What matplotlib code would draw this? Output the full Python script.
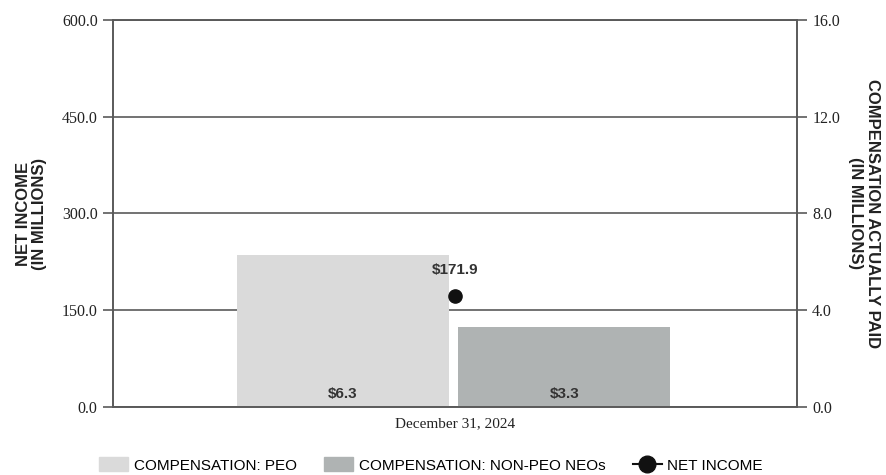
import matplotlib.pyplot as plt
from matplotlib.patches import Patch
from matplotlib.lines import Line2D

# data
period = ["December 31, 2024"]
cap_peo = [6.3]
cap_non_peo = [3.3]
net_income = [171.9]

c_peo = "#dadada"
c_non = "#afb3b3"
c_grid = "#5a5a5a"
serif = "Liberation Serif"
sans = "Liberation Sans"

fig = plt.figure(figsize=(8.86, 4.75), dpi=100)
ax = fig.add_axes([0.1275, 0.1432, 0.772, 0.8147])
ax2 = ax.twinx()

# bars on right axis, point on left axis drawn on top
ax.set_zorder(ax2.get_zorder() + 1)
ax.patch.set_visible(False)

x = [0]
w = 0.62
b1 = ax2.bar([i - 0.327 for i in x], cap_peo, w, color=c_peo, zorder=2)
b2 = ax2.bar([i + 0.32 for i in x], cap_non_peo, w, color=c_non, zorder=2)

for rects, vals in ((b1, cap_peo), (b2, cap_non_peo)):
    for r, v in zip(rects, vals):
        ax2.annotate(f"${v:.1f}", (r.get_x() + r.get_width() / 2, 0),
                     xytext=(0, 9.5), textcoords="offset points",
                     ha="center", va="center", fontsize=11, fontweight="bold",
                     color="#333333", family=sans, zorder=3)

ax.plot(x, net_income, "o", color="#111111", markersize=9.5, zorder=5)
for i, v in zip(x, net_income):
    ax.annotate(f"${v:.1f}", (i, v), xytext=(0, 19), textcoords="offset points",
                ha="center", va="center", fontsize=11, fontweight="bold",
                color="#333333", family=sans)

ax.set_xlim(-1, 1)
ax.set_ylim(0, 600)
ax2.set_ylim(0, 16)
ax.set_yticks([0, 150, 300, 450, 600])
ax.set_yticklabels([f"{t:.1f}" for t in [0, 150, 300, 450, 600]],
                   family=serif, fontsize=11.5)
ax2.set_yticks([0, 4, 8, 12, 16])
ax2.set_yticklabels([f"{t:.1f}" for t in [0, 4, 8, 12, 16]],
                    family=serif, fontsize=11.5)
ax.set_xticks(x)
ax.set_xticklabels(period, family=serif, fontsize=11)

ax2.grid(True, color=c_grid, linewidth=1.2)
ax2.set_axisbelow(True)
ax.tick_params(axis="x", length=0, pad=7, colors="#222222")
ax.tick_params(axis="y", length=7, width=1.2, color=c_grid, pad=4, labelcolor="#222222")
ax2.tick_params(axis="y", length=7, width=1.2, color=c_grid, pad=4, labelcolor="#222222")
for a in (ax, ax2):
    for s in a.spines.values():
        s.set_color(c_grid)
        s.set_linewidth(1.2)

ax.set_ylabel("NET INCOME\n(IN MILLIONS)", family=sans, fontweight="bold",
              fontsize=12, color="#222222", labelpad=11, linespacing=1.05)
ax2.set_ylabel("COMPENSATION ACTUALLY PAID\n(IN MILLIONS)", family=sans,
               fontweight="bold", fontsize=12, color="#222222", rotation=-90,
               va="bottom", labelpad=6, linespacing=1.15)

handles = [
    Patch(color=c_peo),
    Patch(color=c_non),
    Line2D([], [], color="#111111", marker="o", markersize=12, linewidth=1.5),
]
labels = ["COMPENSATION: PEO", "COMPENSATION: NON-PEO NEOs", "NET INCOME"]
fig.legend(handles, labels, loc="center", bbox_to_anchor=(0.4865, 0.021), ncol=3,
           frameon=False, prop={"family": sans, "size": 11}, handlelength=1.9,
           handleheight=1.0, columnspacing=1.8, handletextpad=0.35,
           borderpad=0.0)

fig.savefig("out.png", dpi=100)
